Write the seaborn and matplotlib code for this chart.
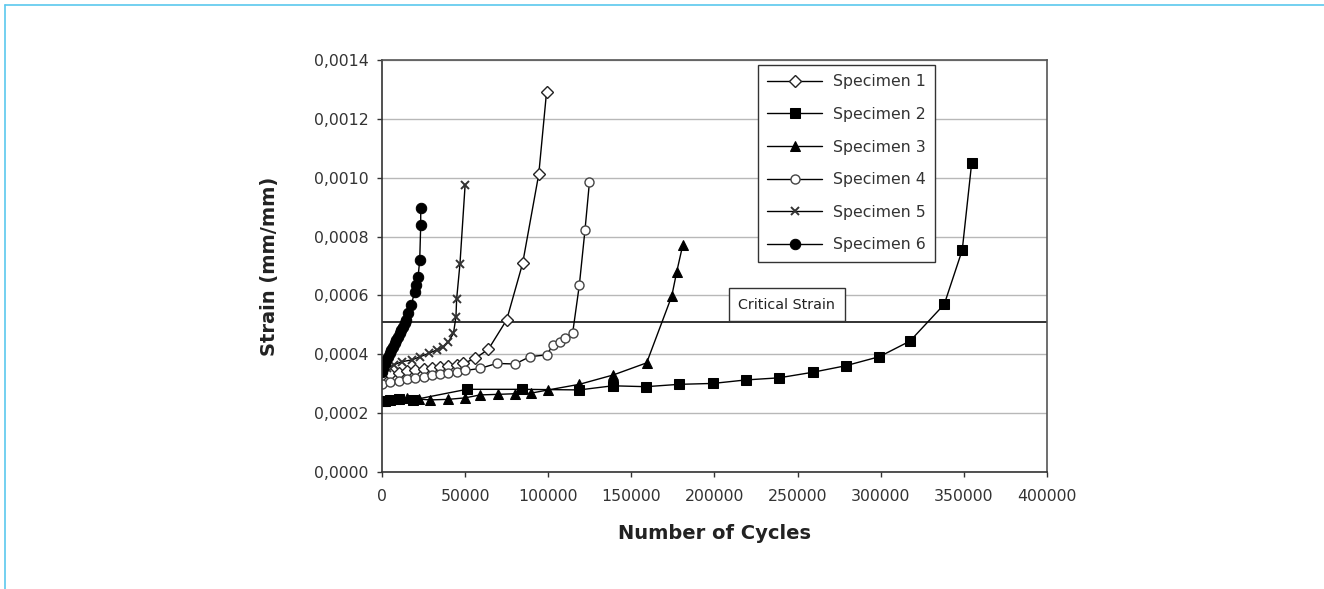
import matplotlib
matplotlib.use("Agg")
import matplotlib.pyplot as plt
from matplotlib.ticker import FuncFormatter, MultipleLocator
from matplotlib.lines import Line2D
import seaborn as sns
import pandas as pd

# ---- data ----
spec1_x = [0, 5000, 10000, 15000, 20000, 25000, 30000, 35000, 40000, 45000, 49000, 56000, 64000, 75000, 84600, 94300, 99000]
spec1_y = [0.000330, 0.000334, 0.000338, 0.000342, 0.000346, 0.000350, 0.000354, 0.000357, 0.000361, 0.000365, 0.000369, 0.000386, 0.000417, 0.000517, 0.000709, 0.001012, 0.001292]

spec2_x = [0, 2000, 5000, 10000, 18600, 51000, 84000, 118700, 138800, 158800, 178800, 199000, 219000, 238700, 259100, 278800, 299200, 317600, 338200, 349000, 354700]
spec2_y = [0.000240, 0.000243, 0.000245, 0.000248, 0.000245, 0.000281, 0.000281, 0.000279, 0.000293, 0.000290, 0.000298, 0.000301, 0.000313, 0.000320, 0.000339, 0.000361, 0.000392, 0.000445, 0.000570, 0.000754, 0.001051]

spec3_x = [0, 3000, 8000, 15000, 22000, 29000, 40000, 50000, 59000, 70000, 80000, 89600, 100000, 118700, 139200, 159200, 174300, 177300, 180900]
spec3_y = [0.000240, 0.000244, 0.000247, 0.000250, 0.000248, 0.000245, 0.000247, 0.000252, 0.000262, 0.000264, 0.000266, 0.000268, 0.000279, 0.000298, 0.000330, 0.000371, 0.000598, 0.000681, 0.000771]

spec4_x = [0, 5000, 10000, 15000, 20000, 25000, 30000, 35000, 40000, 45000, 50000, 59000, 69000, 80000, 89000, 99000, 103000, 107000, 110000, 114700, 118700, 122100, 124800]
spec4_y = [0.000300, 0.000305, 0.000310, 0.000315, 0.000320, 0.000324, 0.000328, 0.000333, 0.000337, 0.000341, 0.000345, 0.000352, 0.000369, 0.000367, 0.000392, 0.000398, 0.000432, 0.000443, 0.000454, 0.000473, 0.000635, 0.000822, 0.000986]

spec5_x = [0, 3000, 7000, 12000, 18000, 23000, 28000, 33000, 37000, 40000, 43000, 44500, 44900, 46900, 50000]
spec5_y = [0.000340, 0.000352, 0.000364, 0.000375, 0.000381, 0.000392, 0.000403, 0.000415, 0.000425, 0.000443, 0.000471, 0.000528, 0.000587, 0.000707, 0.000975]

spec6_x = [0, 600, 1600, 2600, 3600, 4600, 5600, 6600, 7600, 8600, 9600, 10600, 11600, 12600, 13600, 14600, 15600, 17600, 19700, 20600, 21700, 22700, 23300, 23300]
spec6_y = [0.000341, 0.000355, 0.000369, 0.000380, 0.000392, 0.000403, 0.000414, 0.000426, 0.000437, 0.000448, 0.000460, 0.000471, 0.000483, 0.000494, 0.000506, 0.000517, 0.000539, 0.000567, 0.000613, 0.000635, 0.000662, 0.000720, 0.000839, 0.000896]

critical_strain = 0.00051
names = ["Specimen 1", "Specimen 2", "Specimen 3", "Specimen 4", "Specimen 5", "Specimen 6"]
xs = [spec1_x, spec2_x, spec3_x, spec4_x, spec5_x, spec6_x]
ys = [spec1_y, spec2_y, spec3_y, spec4_y, spec5_y, spec6_y]
x_ticks = [0, 50000, 100000, 150000, 200000, 250000, 300000, 350000, 400000]

frames = []
for n, x, y in zip(names, xs, ys):
    frames.append(pd.DataFrame({"cycles": x, "strain": y, "specimen": n}))
df = pd.concat(frames, ignore_index=True)

sns.set_theme(style="white")
plt.rcParams["font.family"] = ["DejaVu Sans"]

fig = plt.figure(figsize=(13.24, 5.89), dpi=100)
ax = fig.add_axes([0.2885, 0.1986, 0.5023, 0.6995])

styles = {
    "Specimen 1": dict(marker="D", markersize=6, markerfacecolor="white", markeredgecolor="#222222", markeredgewidth=1.0),
    "Specimen 2": dict(marker="s", markersize=6.5, markerfacecolor="black", markeredgecolor="black"),
    "Specimen 3": dict(marker="^", markersize=7.5, markerfacecolor="black", markeredgecolor="black"),
    "Specimen 4": dict(marker="o", markersize=6.5, markerfacecolor="white", markeredgecolor="#444444", markeredgewidth=1.0),
    "Specimen 5": dict(marker="x", markersize=6, markeredgecolor="#333333", markeredgewidth=1.4),
    "Specimen 6": dict(marker="o", markersize=7.5, markerfacecolor="black", markeredgecolor="black"),
}

for n in names:
    sub = df[df["specimen"] == n]
    sns.lineplot(data=sub, x="cycles", y="strain", ax=ax, sort=False, estimator=None,
                 color="black", linewidth=1.0, label=n, **styles[n])

ax.axhline(critical_strain, color="#222222", linewidth=1.3, zorder=1)
ax.text(243500, critical_strain + 0.0000585, "Critical Strain", ha="center", va="center",
        fontsize=10.3, color="#222222",
        bbox=dict(boxstyle="square,pad=0.68", facecolor="white", edgecolor="#333333", linewidth=1.0))

ax.set_xlim(0, 400000)
ax.set_ylim(0, 0.0014)
ax.set_xticks(x_ticks)
ax.set_xticklabels([str(t) for t in x_ticks])
ax.yaxis.set_major_locator(MultipleLocator(0.0002))
ax.yaxis.set_major_formatter(FuncFormatter(lambda v, p: f"{v:.4f}".replace(".", ",")))
ax.grid(axis="y", color="#b8b8b8", linewidth=1.0)
ax.grid(axis="x", visible=False)
ax.set_axisbelow(True)

for s in ["left", "bottom"]:
    ax.spines[s].set_color("#333333")
    ax.spines[s].set_linewidth(1.2)
for s in ["top", "right"]:
    ax.spines[s].set_color("#555555")
    ax.spines[s].set_linewidth(1.2)

ax.tick_params(axis="both", which="major", direction="out", length=3.5, width=1, color="#333333",
               labelsize=11.3, labelcolor="#333333", bottom=True, left=True)
ax.tick_params(axis="x", pad=9)
ax.tick_params(axis="y", pad=6)

ax.set_xlabel("Number of Cycles", fontsize=14, fontweight="bold", color="#222222", labelpad=14)
ax.set_ylabel("Strain (mm/mm)", fontsize=14, fontweight="bold", color="#222222", labelpad=25)

leg = ax.legend(loc="upper left", bbox_to_anchor=(0.565, 0.988), frameon=True, fancybox=False,
                edgecolor="#333333", facecolor="white", framealpha=1, fontsize=11.3,
                labelspacing=1.12, handlelength=3.5, handletextpad=0.7, borderpad=0.6,
                borderaxespad=0)
leg.get_frame().set_linewidth(1.0)
for t in leg.get_texts():
    t.set_color("#333333")

# light blue page frame
fig.add_artist(Line2D([5 / 1324, 1.0], [1 - 5 / 589, 1 - 5 / 589], transform=fig.transFigure, color="#5bc8ee", linewidth=1.2))
fig.add_artist(Line2D([5 / 1324, 5 / 1324], [0.0, 1 - 5 / 589], transform=fig.transFigure, color="#5bc8ee", linewidth=1.2))

fig.savefig("out.png", dpi=100, facecolor="white")
